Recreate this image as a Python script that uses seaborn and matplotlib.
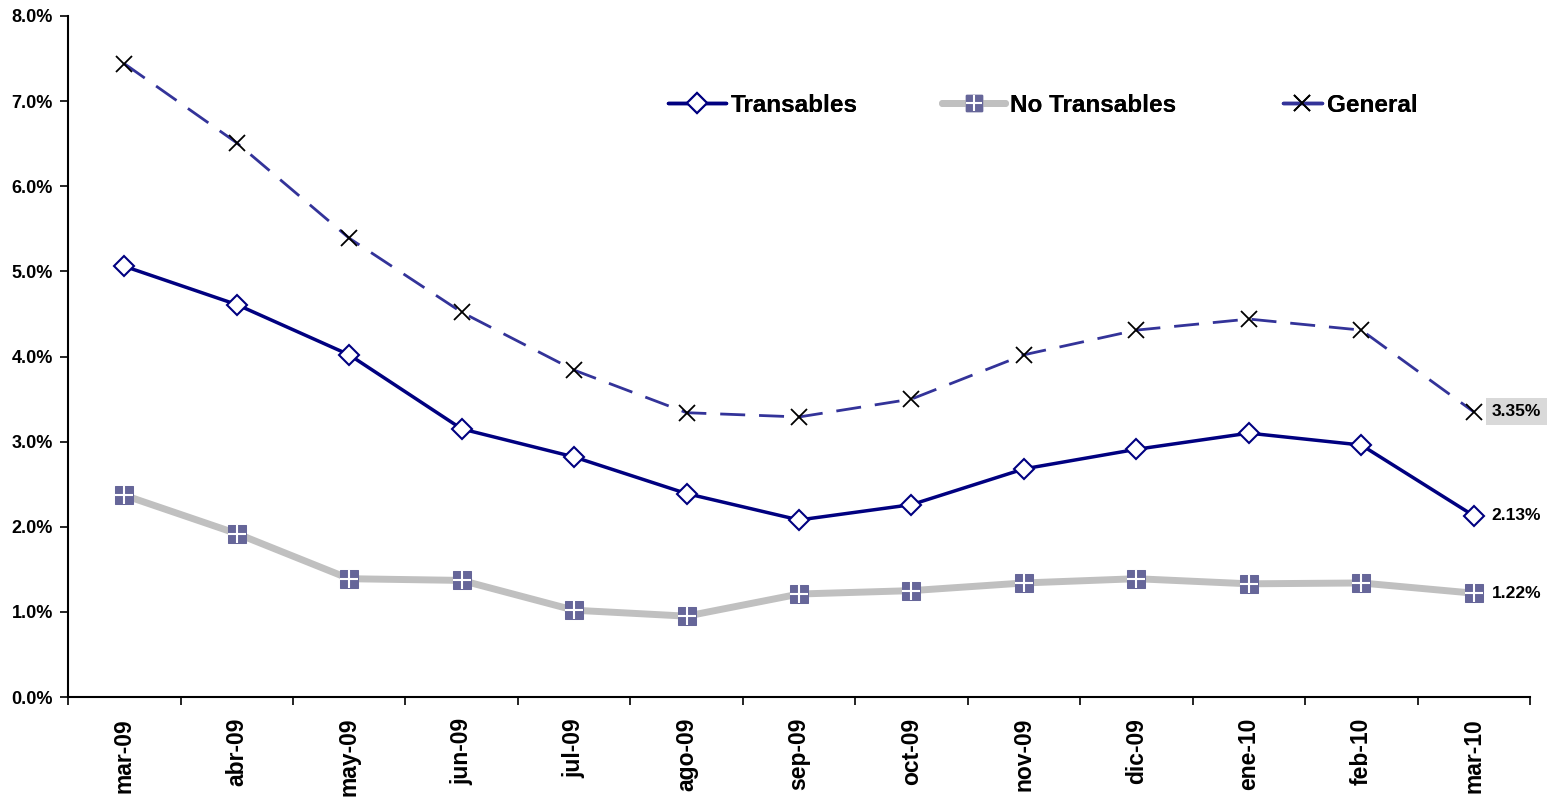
import matplotlib
matplotlib.use("Agg")
import matplotlib.pyplot as plt
import seaborn as sns
import pandas as pd
import numpy as np
from matplotlib.ticker import FixedLocator, FuncFormatter
from matplotlib.lines import Line2D

months = ["mar-09", "abr-09", "may-09", "jun-09", "jul-09", "ago-09", "sep-09",
          "oct-09", "nov-09", "dic-09", "ene-10", "feb-10", "mar-10"]
transables = [5.06, 4.61, 4.02, 3.15, 2.82, 2.39, 2.08, 2.26, 2.68, 2.91, 3.10, 2.96, 2.13]
no_transables = [2.37, 1.92, 1.39, 1.37, 1.02, 0.95, 1.21, 1.25, 1.34, 1.39, 1.33, 1.34, 1.22]
general = [7.44, 6.51, 5.39, 4.52, 3.84, 3.34, 3.29, 3.50, 4.02, 4.31, 4.44, 4.31, 3.35]
yticks = [0, 1, 2, 3, 4, 5, 6, 7, 8]

sns.set_theme(style="white")
plt.rcParams['font.family'] = ['Liberation Sans', 'DejaVu Sans']
plt.rcParams['font.weight'] = 'bold'
for k in ["text.color", "axes.labelcolor", "xtick.color", "ytick.color"]:
    plt.rcParams[k] = "black"

df = pd.DataFrame({"pos": np.arange(len(months)), "month": months,
                   "Transables": transables, "No Transables": no_transables,
                   "General": general})

fig = plt.figure(figsize=(15.47, 7.99), dpi=100)
ax = fig.add_axes([0.044, 0.1276, 0.945, 0.8524])

navy = "#000080"
gray = "#c0c0c0"
gen_col = "#333399"
sq_col = "#666699"

# No Transables
sns.lineplot(data=df, x="pos", y="No Transables", ax=ax, color=gray, linewidth=5,
             marker="s", markersize=13, markerfacecolor=sq_col, markeredgecolor=sq_col,
             zorder=2, legend=False)
ax.plot(df["pos"], df["No Transables"], linestyle="none", marker="+", markersize=13,
        markeredgecolor="white", markeredgewidth=1.5, zorder=3)

# Transables
sns.lineplot(data=df, x="pos", y="Transables", ax=ax, color=navy, linewidth=2.5,
             marker="D", markersize=10, markerfacecolor="white", markeredgecolor=navy,
             markeredgewidth=1.5, zorder=4, legend=False)

# General
sns.lineplot(data=df, x="pos", y="General", ax=ax, color=gen_col, linewidth=2,
             dashes=False, zorder=5, legend=False)
ax.lines[-1].set_dashes([9, 5])
ax.plot(df["pos"], df["General"], linestyle="none", marker="x", markersize=12,
        markeredgecolor="black", markeredgewidth=1.3, zorder=6)

ax.set_xlim(-0.5, len(months) - 0.5)
ax.set_ylim(0, 8)
ax.set_xlabel("")
ax.set_ylabel("")

ax.set_xticks(df["pos"])
ax.set_xticklabels(months, rotation=90, fontsize=16.5, fontweight="bold")
ax.xaxis.set_minor_locator(FixedLocator(np.arange(-0.5, len(months), 1.0)))
ax.tick_params(axis="x", which="major", length=0, pad=15)
ax.tick_params(axis="x", which="minor", length=6, width=1.2, color="black", bottom=True)

ax.set_yticks(yticks)
ax.yaxis.set_major_formatter(FuncFormatter(lambda v, p: f"{v:.1f}%"))
ax.tick_params(axis="y", which="major", length=6, width=1.2, color="black", left=True,
               labelsize=13, pad=5)
for lab in ax.get_yticklabels():
    lab.set_fontweight("bold")

for side in ["top", "right"]:
    ax.spines[side].set_visible(False)
for side in ["left", "bottom"]:
    ax.spines[side].set_color("black")
    ax.spines[side].set_linewidth(1.5)

# end labels
last = len(months) - 1
ax.annotate(f"{general[-1]:.2f}%", (last, general[-1]), xytext=(13, 0),
            textcoords="offset points", va="center", ha="left", fontsize=12.5,
            fontweight="bold",
            bbox=dict(boxstyle="square,pad=0.35", fc="#d9d9d9", ec="none"))
ax.annotate(f"{transables[-1]:.2f}%", (last, transables[-1]), xytext=(13, 0),
            textcoords="offset points", va="center", ha="left", fontsize=12.5,
            fontweight="bold")
ax.annotate(f"{no_transables[-1]:.2f}%", (last, no_transables[-1]), xytext=(13, 0),
            textcoords="offset points", va="center", ha="left", fontsize=12.5,
            fontweight="bold")

# legend (three single-entry legends placed like the reference)
h1 = Line2D([], [], color=navy, linewidth=2.5, marker="D", markersize=10,
            markerfacecolor="white", markeredgecolor=navy, markeredgewidth=1.5)
h2 = Line2D([], [], color=gray, linewidth=5, marker="s", markersize=12,
            markerfacecolor=sq_col, markeredgecolor=sq_col)
h2b = Line2D([], [], linestyle="none", marker="+", markersize=12,
             markeredgecolor="white", markeredgewidth=1.5)
h3 = Line2D([], [], color=gen_col, linewidth=2.5, marker="x", markersize=12,
            markeredgecolor="black", markeredgewidth=1.3)
W, H = 1547.0, 799.0
ly = 1 - 105 / H
specs = [((h1,), "Transables", 668, 2.4),
         ((h2, h2b), "No Transables", 942, 2.6),
         ((h3,), "General", 1283, 1.6)]
for handle, label, xpx, hl in specs:
    lg = fig.legend([handle], [label], loc="center left",
                    bbox_to_anchor=(xpx / W, ly), frameon=False,
                    borderaxespad=0, borderpad=0, handlelength=hl,
                    handletextpad=0.2, prop={"weight": "bold", "size": 17.5})
    fig.add_artist(lg)

fig.savefig("out.png", dpi=100, facecolor="white")
